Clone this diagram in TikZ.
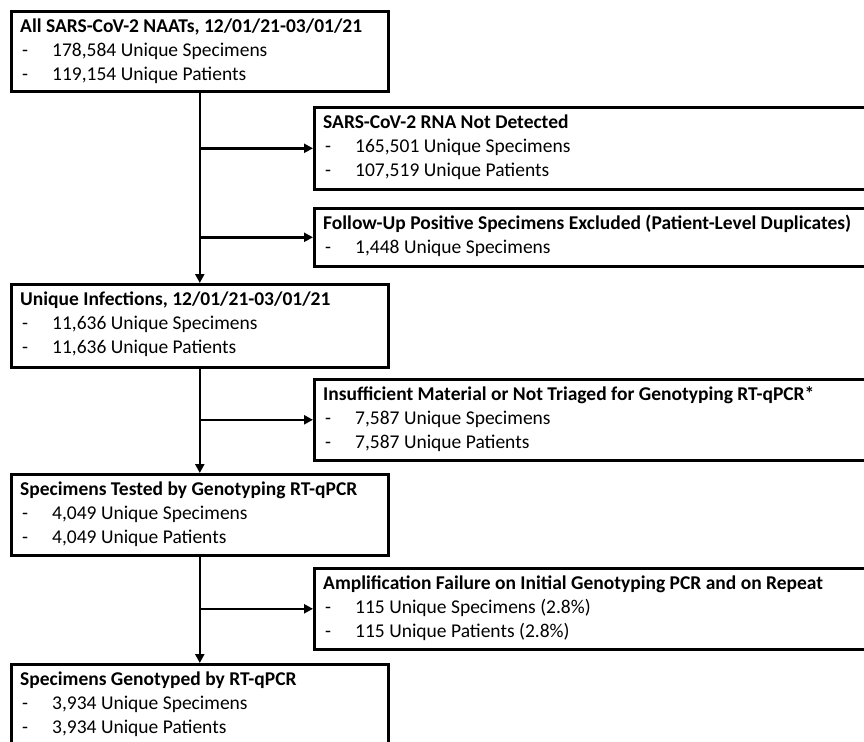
\documentclass[tikz,border=0pt]{standalone}
\usepackage{fontspec}
\setmainfont{Carlito}
\usetikzlibrary{arrows.meta}
\newcommand{\dashitem}{\hspace{2pt}\makebox[30pt][l]{-}}
\begin{document}
\begin{tikzpicture}[x=1pt,y=-1pt,
  box/.style={draw, line width=2.6pt, anchor=north west, inner sep=0pt},
  txt/.style={anchor=base west, inner sep=0pt, font=\fontsize{19.5}{24}\selectfont},
  flow/.style={line width=2.6pt, -{Triangle[length=9pt,width=9pt]}}
]
\useasboundingbox (0,0) rectangle (864,741);
\begin{scope}
\clip (0,0) rectangle (864,741);
% left column boxes
\node[box, minimum width=377pt, minimum height=80pt] (b1) at (10,10) {};
\node[box, minimum width=377pt, minimum height=83pt] (b2) at (10,283) {};
\node[box, minimum width=377pt, minimum height=81pt] (b3) at (10,473) {};
\node[box, minimum width=377pt, minimum height=100pt] (b4) at (10,663) {};
% right column boxes
\node[box, minimum width=580pt, minimum height=82pt] (ba) at (313,106) {};
\node[box, minimum width=580pt, minimum height=58pt] (bb) at (313,207) {};
\node[box, minimum width=580pt, minimum height=81pt] (bc) at (313,378) {};
\node[box, minimum width=580pt, minimum height=81pt] (bd) at (313,567) {};

% texts
\node[txt] (t1) at (20,32.5) {\begin{tabular}[t]{@{}l@{}}\textbf{All SARS-CoV-2 NAATs, 12/01/21-03/01/21}\\\dashitem 178,584 Unique Specimens\\\dashitem 119,154 Unique Patients\end{tabular}};
\node[txt] (ta) at (323,128.5) {\begin{tabular}[t]{@{}l@{}}\textbf{SARS-CoV-2 RNA Not Detected}\\\dashitem 165,501 Unique Specimens\\\dashitem 107,519 Unique Patients\end{tabular}};
\node[txt] (tb) at (323,229.5) {\begin{tabular}[t]{@{}l@{}}\textbf{Follow-Up Positive Specimens Excluded (Patient-Level Duplicates)}\\\dashitem 1,448 Unique Specimens\end{tabular}};
\node[txt] (t2) at (20,305.5) {\begin{tabular}[t]{@{}l@{}}\textbf{Unique Infections, 12/01/21-03/01/21}\\\dashitem 11,636 Unique Specimens\\\dashitem 11,636 Unique Patients\end{tabular}};
\node[txt] (tc) at (323,400.5) {\begin{tabular}[t]{@{}l@{}}\textbf{Insufficient Material or Not Triaged for Genotyping RT-qPCR*}\\\dashitem 7,587 Unique Specimens\\\dashitem 7,587 Unique Patients\end{tabular}};
\node[txt] (t3) at (20,495.5) {\begin{tabular}[t]{@{}l@{}}\textbf{Specimens Tested by Genotyping RT-qPCR}\\\dashitem 4,049 Unique Specimens\\\dashitem 4,049 Unique Patients\end{tabular}};
\node[txt] (td) at (323,589.5) {\begin{tabular}[t]{@{}l@{}}\textbf{Amplification Failure on Initial Genotyping PCR and on Repeat}\\\dashitem 115 Unique Specimens (2.8\%)\\\dashitem 115 Unique Patients (2.8\%)\end{tabular}};
\node[txt] (t4) at (20,685.5) {\begin{tabular}[t]{@{}l@{}}\textbf{Specimens Genotyped by RT-qPCR}\\\dashitem 3,934 Unique Specimens\\\dashitem 3,934 Unique Patients\end{tabular}};

% connectors
\draw[flow] (b1.south) -- (b2.north);
\draw[flow] (b2.south) -- (b3.north);
\draw[flow] (b3.south) -- (b4.north);
\draw[flow] (b1.south |- ba.west) -- (ba.west);
\draw[flow] (b1.south |- bb.west) -- (bb.west);
\draw[flow] (b2.south |- bc.west) -- (bc.west);
\draw[flow] (b3.south |- bd.west) -- (bd.west);
\end{scope}
\end{tikzpicture}
\end{document}
